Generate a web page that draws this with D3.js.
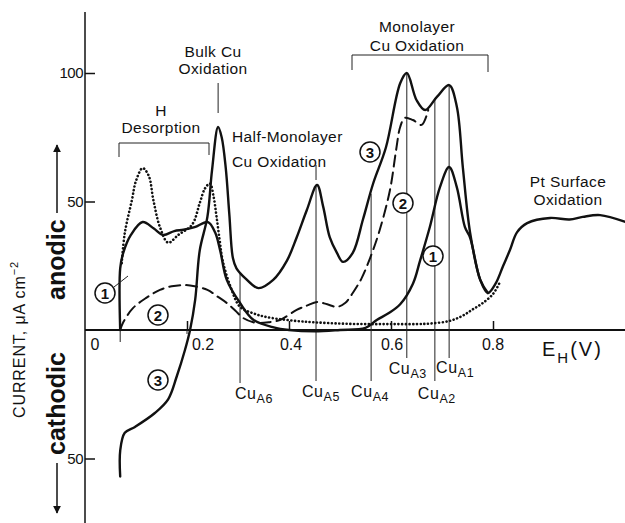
<!DOCTYPE html>
<meta charset="utf-8">
<style>
body { margin: 0; background: #fff; }
svg { font-family: "Liberation Sans", Arial, sans-serif; fill: #111; }
.curve { fill: none; stroke: #111; stroke-linejoin: round; stroke-linecap: round; }
.note { font-size: 15.5px; letter-spacing: 0.4px; }
.thin { stroke: #222; stroke-width: 1; fill: none; }
</style>
<body>
<svg width="625" height="523"></svg>
<script src="https://d3js.org/d3.v7.min.js"></script>
<script>

// ---- data (E in V vs RHE, current in uA cm-2) ----
// curve 3 : solid, with bulk Cu
var c3E = [0.069, 0.069, 0.078, 0.098, 0.137, 0.163, 0.180, 0.196, 0.206, 0.216, 0.225, 0.240, 0.249, 0.261, 0.268, 0.276, 0.283, 0.290, 0.297, 0.315, 0.340, 0.369, 0.396, 0.415, 0.435, 0.455, 0.467, 0.480, 0.494, 0.506, 0.525, 0.545, 0.565, 0.590, 0.618, 0.631, 0.650, 0.667, 0.690, 0.714, 0.729, 0.741, 0.755, 0.775, 0.790, 0.805, 0.820, 0.833, 0.847, 0.867, 0.912, 0.950, 0.976, 1.010, 1.060];
var c3I = [-57, -47, -40, -37.7, -32.3, -27, -18, -7.8, 0, 11.7, 31, 44, 62, 79, 75, 63, 45, 28, 24, 20, 16.3, 19.5, 27, 36, 46.7, 56.4, 48, 36, 30, 26.5, 30, 43, 57, 71, 96, 100, 89.5, 85.6, 90.7, 95.3, 87, 63, 38, 19.5, 14.4, 18, 25, 31, 38, 41.6, 43.6, 43, 44, 44.7, 42];

// curve 1 : solid, half monolayer
var c1E = [0.069, 0.069, 0.075, 0.090, 0.113, 0.135, 0.153, 0.175, 0.193, 0.215, 0.241, 0.255, 0.265, 0.278, 0.304, 0.330, 0.370, 0.400, 0.450, 0.500, 0.550, 0.572, 0.595, 0.618, 0.643, 0.657, 0.676, 0.696, 0.714, 0.729, 0.745, 0.755, 0.775, 0.790];
var c1I = [0, 24, 30, 37, 42, 39.5, 37, 38.5, 39, 40, 42, 38, 31, 19.5, 10.5, 4, 1, 0, -0.5, 0, 0.8, 3.9, 6.5, 10, 18, 27, 40, 55.6, 63.4, 55.6, 40, 36, 19.5, 14.4];

// curve 2 : dashed
var c2E = [0.069, 0.075, 0.094, 0.120, 0.147, 0.170, 0.193, 0.215, 0.240, 0.260, 0.278, 0.295, 0.310, 0.330, 0.343, 0.360, 0.382, 0.415, 0.435, 0.455, 0.475, 0.494, 0.510, 0.525, 0.542, 0.559, 0.578, 0.598, 0.610, 0.618, 0.627, 0.643, 0.660, 0.673];
var c2I = [0, 3, 8.5, 12.5, 15.6, 17, 17.5, 17, 15.6, 13, 10.5, 7.5, 4.7, 3, 2.7, 3, 3.9, 7.8, 9.5, 10.9, 10, 9, 10.5, 14.4, 20, 28, 39, 54.5, 70, 79, 82.5, 81.7, 79.8, 85.6];

// dotted : clean Pt
var c0E = [0.072, 0.078, 0.092, 0.100, 0.113, 0.125, 0.134, 0.147, 0.163, 0.183, 0.210, 0.225, 0.235, 0.245, 0.252, 0.258, 0.264, 0.270, 0.285, 0.304, 0.330, 0.357, 0.415, 0.450, 0.500, 0.550, 0.600, 0.650, 0.676, 0.714, 0.740, 0.760, 0.780, 0.800, 0.812];
var c0I = [26, 37.7, 50.6, 58, 63, 60, 50.6, 40, 34, 37, 41, 49.4, 55, 57, 52, 44, 35, 27, 17, 9, 6.5, 5, 3.5, 3, 2.5, 2.3, 2.3, 2.3, 2.5, 3.5, 5.5, 8, 10.5, 14, 18];

// Cu stripping peak markers
var cuNames = ["A6", "A5", "A4", "A3", "A2", "A1"];
var cuE = [0.304, 0.453, 0.561, 0.631, 0.686, 0.714];
var cuTop = [22, 56, 53, 100, 90, 95];

// ticks
var xTickVals = [0, 0.2, 0.4, 0.6, 0.8];
var xTickLabels = ["0", "0.2", "0.4", "0.6", "0.8"];
var yTickVals = [100, 50, -50];
var yTickLabels = ["100", "50", "50"];

// ---- layout ----
var svg = d3.select("svg");
var x = d3.scaleLinear().domain([0, 1]).range([85, 595]);
var y = d3.scaleLinear().domain([0, 100]).range([330, 73]);

var line = d3.line()
    .x(function(d) { return x(d[0]); })
    .y(function(d) { return y(d[1]); })
    .curve(d3.curveCatmullRom.alpha(0.5));

function pts(E, I) { return E.map(function(e, i) { return [e, I[i]]; }); }

// axes lines
svg.append("line").attr("x1", x(0)).attr("x2", x(0)).attr("y1", 12).attr("y2", 523)
    .attr("stroke", "#111").attr("stroke-width", 1.5);
svg.append("line").attr("x1", x(0)).attr("x2", 625).attr("y1", y(0)).attr("y2", y(0))
    .attr("stroke", "#111").attr("stroke-width", 2);

// y ticks
var yAxis = d3.axisRight(y).tickValues(yTickVals).tickSize(10).tickFormat("");
svg.append("g").attr("transform", "translate(" + x(0) + ",0)").call(yAxis)
    .call(function(g) { g.select(".domain").remove(); })
    .selectAll("line").attr("stroke", "#111").attr("stroke-width", 1.5);
svg.selectAll(".ylab").data(yTickVals).enter().append("text")
    .attr("x", x(0) - 2).attr("y", function(d) { return y(d) + 5; })
    .attr("text-anchor", "end").attr("font-size", 15).attr("letter-spacing", -0.5)
    .text(function(d, i) { return yTickLabels[i]; });

// x ticks (marks above the axis)
var xAxis = d3.axisBottom(x).tickValues(xTickVals.slice(1)).tickSize(-9).tickFormat("");
svg.append("g").attr("transform", "translate(0," + y(0) + ")").call(xAxis)
    .call(function(g) { g.select(".domain").remove(); })
    .selectAll("line").attr("stroke", "#111").attr("stroke-width", 1.5);
// little marks below: sweep start and 0.2
svg.append("line").attr("class", "thin").attr("x1", x(0.069)).attr("x2", x(0.069))
    .attr("y1", y(0)).attr("y2", y(0) + 12).attr("stroke-width", 1.5);
svg.append("line").attr("class", "thin").attr("x1", x(0.2)).attr("x2", x(0.2))
    .attr("y1", y(0)).attr("y2", y(0) + 4).attr("stroke-width", 1.5);
var xLabDx = [10, 16, 2, 1, 0];
svg.selectAll(".xlab").data(xTickVals).enter().append("text")
    .attr("x", function(d, i) { return x(d) + xLabDx[i]; }).attr("y", 350)
    .attr("text-anchor", "middle").attr("font-size", 16)
    .text(function(d, i) { return xTickLabels[i]; });

var eh = svg.append("text").attr("x", 542).attr("y", 356).attr("font-size", 20).attr("letter-spacing", 2);
eh.append("tspan").text("E");
eh.append("tspan").attr("font-size", 15).attr("dy", 7).text("H");
eh.append("tspan").attr("dy", -7).text("(V)");

// y label
var yl = svg.append("text").attr("transform", "translate(25,418) rotate(-90)")
    .attr("font-size", 16).attr("letter-spacing", 0.9);
yl.append("tspan").text("CURRENT, \u03bcA cm");
yl.append("tspan").attr("font-size", 11).attr("dy", -7).text("\u22122");

svg.append("text").attr("transform", "translate(65,300) rotate(-90)")
    .attr("font-size", 25).attr("font-weight", "bold").text("anodic");
svg.append("text").attr("transform", "translate(65,455) rotate(-90)")
    .attr("font-size", 25).attr("font-weight", "bold").text("cathodic");

// arrows
svg.append("defs").append("marker").attr("id", "ah").attr("viewBox", "0 0 10 10")
    .attr("refX", 9).attr("refY", 5).attr("markerWidth", 8).attr("markerHeight", 10)
    .attr("markerUnits", "userSpaceOnUse").attr("orient", "auto")
  .append("path").attr("d", "M0,0L10,5L0,10Z").attr("fill", "#111");
svg.append("line").attr("x1", 57).attr("x2", 57).attr("y1", 213).attr("y2", 145)
    .attr("stroke", "#111").attr("stroke-width", 1.5).attr("marker-end", "url(#ah)");
svg.append("line").attr("x1", 57).attr("x2", 57).attr("y1", 463).attr("y2", 513)
    .attr("stroke", "#111").attr("stroke-width", 1.5).attr("marker-end", "url(#ah)");

// Cu marker lines and labels
var cuBottom = [383, 381, 381, 358, 381, 358];
var cuLabY = [399, 397, 397, 374, 399, 373];
var cuLabDx = [14, 5, -1, 1, 2, 6];
svg.selectAll(".cul").data(cuE).enter().append("line").attr("class", "thin")
    .attr("x1", function(d) { return x(d); }).attr("x2", function(d) { return x(d); })
    .attr("y1", function(d, i) { return y(cuTop[i]); })
    .attr("y2", function(d, i) { return cuBottom[i]; });
var cut = svg.selectAll(".cut").data(cuE).enter().append("text")
    .attr("x", function(d, i) { return x(d) + cuLabDx[i]; })
    .attr("y", function(d, i) { return cuLabY[i]; })
    .attr("text-anchor", "middle").attr("font-size", 16).attr("letter-spacing", 0.6);
cut.append("tspan").text("Cu");
cut.append("tspan").attr("font-size", 12.5).attr("dy", 4).text(function(d, i) { return cuNames[i]; });

// curves
svg.append("path").datum(pts(c0E, c0I)).attr("class", "curve").attr("d", line)
    .attr("stroke-width", 2.6).attr("stroke-dasharray", "0.1 3.6");
svg.append("path").datum(pts(c2E, c2I)).attr("class", "curve").attr("d", line)
    .attr("stroke-width", 2).attr("stroke-linecap", "butt").attr("stroke-dasharray", "11 6");
svg.append("path").datum(pts(c1E, c1I)).attr("class", "curve").attr("d", line)
    .attr("stroke-width", 2.4);
svg.append("path").datum(pts(c3E, c3I)).attr("class", "curve").attr("d", line)
    .attr("stroke-width", 2.4);

// annotations
function note(lines, xx, yy, anchor, gap) {
  lines.forEach(function(t, i) {
    svg.append("text").attr("class", "note").attr("x", xx).attr("y", yy + i * gap)
        .attr("text-anchor", anchor).text(t);
  });
}
note(["Bulk Cu", "Oxidation"], 213, 57, "middle", 17);
svg.append("line").attr("class", "thin").attr("x1", x(0.261)).attr("x2", x(0.261)).attr("y1", 83).attr("y2", 113);

note(["H", "Desorption"], 161, 116, "middle", 17);
svg.append("path").attr("class", "thin").attr("d", "M119,157V143H209V155");

note(["Half-Monolayer", "Cu Oxidation"], 232, 142, "start", 25);
svg.append("line").attr("class", "thin").attr("x1", x(0.453)).attr("x2", x(0.453)).attr("y1", 165).attr("y2", 180);

note(["Monolayer", "Cu Oxidation"], 417, 32, "middle", 19);
svg.append("path").attr("class", "thin").attr("d", "M352,70V55H488V72");

note(["Pt Surface", "Oxidation"], 568, 187, "middle", 18);

// circled curve numbers
var circ = [["3", 370, 152], ["2", 403, 203], ["1", 433, 256], ["1", 105, 293], ["2", 158, 315], ["3", 158, 380]];
var cg = svg.selectAll(".circ").data(circ).enter().append("g")
    .attr("transform", function(d) { return "translate(" + d[1] + "," + d[2] + ")"; });
cg.append("circle").attr("r", 10).attr("fill", "#fff").attr("stroke", "#111").attr("stroke-width", 1.5);
cg.append("text").attr("text-anchor", "middle").attr("y", 5.5).attr("font-size", 15).attr("font-weight", "bold")
    .text(function(d) { return d[0]; });
svg.append("line").attr("class", "thin").attr("x1", 114).attr("y1", 287).attr("x2", 128).attr("y2", 276)
    .attr("stroke-width", 1.3);
</script>
</body>
